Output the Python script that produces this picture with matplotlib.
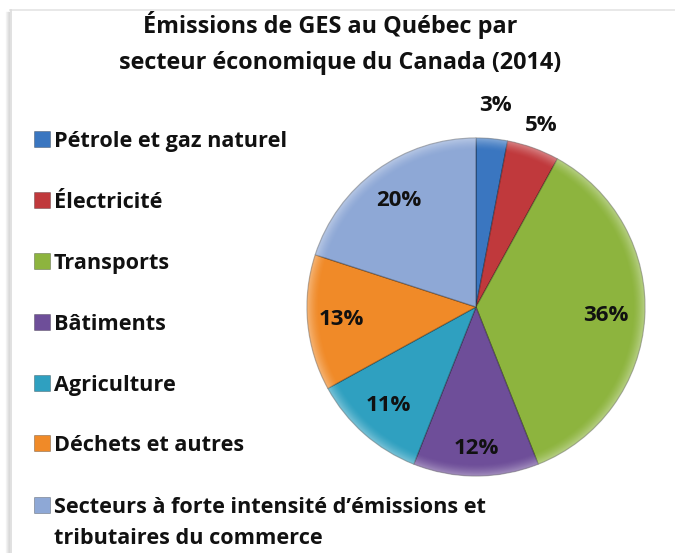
import matplotlib
matplotlib.use("Agg")
import matplotlib.pyplot as plt
import numpy as np
from matplotlib.patches import Rectangle
from matplotlib.lines import Line2D

# ---- data ----
labels = ["Pétrole et gaz naturel", "Électricité", "Transports", "Bâtiments",
          "Agriculture", "Déchets et autres",
          "Secteurs à forte intensité d\u2019émissions et\ntributaires du commerce"]
values = [3, 5, 36, 12, 11, 13, 20]
colors = ["#3A76C0", "#C0393C", "#8DB43E", "#6E4E99", "#2FA0C0", "#F08A28", "#8EA8D6"]
title = "Émissions de GES au Québec par\nsecteur économique du Canada (2014)"

W, H = 675, 553
DPI = 100
fig = plt.figure(figsize=(W / DPI, H / DPI), dpi=DPI)
FONT = ["Open Sans", "DejaVu Sans"]

def px(x, y):
    return x / W, 1 - y / H

# frame lines
for i, a in enumerate([0.04, 0.06, 0.09, 0.13]):
    fig.add_artist(Line2D([(6 + i) / W, (6 + i) / W], [0, 1 - 12 / H],
                          transform=fig.transFigure, color="black", alpha=a, lw=1))
fig.add_artist(Line2D([10 / W, 1], [1 - 9.5 / H, 1 - 9.5 / H],
                      transform=fig.transFigure, color="#e4e4e4", lw=1.2))
fig.add_artist(Line2D([10.5 / W, 10.5 / W], [0, 1 - 9.5 / H],
                      transform=fig.transFigure, color="#dcdcdc", lw=1.2))

# title
for line, by, xc in zip(title.split("\n"), [33, 69], [330, 340]):
    x, y = px(xc, by)
    fig.text(x, y, line, ha="center", va="baseline", fontsize=16.8, fontweight="bold",
             family=FONT, color="#111111")

# pie
cx, cy, r = 476, 307, 169
ax = fig.add_axes([(cx - r) / W, (H - cy - r) / H, 2 * r / W, 2 * r / H])
wedges, texts, autotexts = ax.pie(
    values, colors=colors, startangle=90, counterclock=False,
    autopct=lambda p: f"{p:.0f}%", pctdistance=0.79,
    wedgeprops=dict(edgecolor=(0, 0, 0, 0.3), linewidth=0.9),
    textprops=dict(fontsize=16, fontweight="bold", family=FONT, color="#111111"))
ax.set_xlim(-1, 1)
ax.set_ylim(-1, 1)
ax.axis("off")

# bevel-like shading overlay
yy, xx = np.mgrid[-1:1:400j, -1:1:400j]
rr = np.sqrt(xx ** 2 + yy ** 2)
shade = np.zeros((400, 400, 4))
hl = np.clip((rr - 0.93) / 0.07, 0, 1) ** 1.5
shade[..., :3] = 1.0
shade[..., 3] = hl * 0.35
for w in wedges:
    im = ax.imshow(shade, extent=(-1, 1, -1, 1), origin="lower", zorder=2)
    im.set_clip_path(w)

# move labels
dist = [1.20, 1.14, 0.77, 0.84, 0.78, 0.80, 0.78]
for w, t, d in zip(wedges, autotexts, dist):
    ang = np.deg2rad((w.theta1 + w.theta2) / 2)
    t.set_position((d * np.cos(ang), d * np.sin(ang)))
    t.set_zorder(5)

# legend
baselines = [147, 208, 269, 330, 391, 451, 513]
for lab, col, by in zip(labels, colors, baselines):
    x0, y0 = px(34, by - 0.5)
    fig.add_artist(Rectangle((x0, y0), 16 / W, 16 / H, transform=fig.transFigure,
                             facecolor=col, edgecolor=(0, 0, 0, 0.3), lw=0.6))
    for k, line in enumerate(lab.split("\n")):
        tx, ty = px(54, by + 31 * k)
        fig.text(tx, ty, line, ha="left", va="baseline", fontsize=15.6,
                 fontweight="bold", family=FONT, color="#111111")

fig.savefig("out.png", dpi=DPI, facecolor="white")
